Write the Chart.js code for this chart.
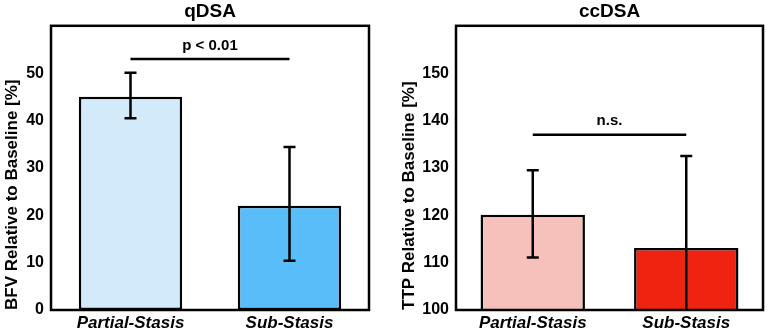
<!DOCTYPE html>
<html>
<head>
<meta charset="utf-8">
<script src="https://cdn.jsdelivr.net/npm/chart.js@4.4.1/dist/chart.umd.min.js"></script>
<style>
  html, body { margin: 0; padding: 0; background: #fff; }
  .panel { position: absolute; top: 0; height: 330px; }
</style>
</head>
<body>
<div class="panel" style="left:0;width:385px"><canvas id="qdsa"></canvas></div>
<div class="panel" style="left:385px;width:390px"><canvas id="ccdsa"></canvas></div>
<script>
// ---------- DATA ----------
const categories = ["Partial-Stasis", "Sub-Stasis"];

const bfvMeans = [45, 22];
const bfvUpper = [50.1, 34.4];
const bfvLower = [40.5, 10.4];
const bfvTicks = [0, 10, 20, 30, 40, 50];
const bfvBracket = 53;
const bfvSig = "p < 0.01";

const ttpMeans = [120.1, 113.1];
const ttpUpper = [129.5, 132.5];
const ttpLower = [111.1, 93.7];
const ttpTicks = [100, 110, 120, 130, 140, 150];
const ttpBracket = 137;
const ttpSig = "n.s.";

const FONT = "'Liberation Sans', Arial, Helvetica, sans-serif";

// ---------- PLUGIN: error bars, bracket, frame ----------
const extras = {
  id: "extras",
  afterDatasetsDraw(chart, args, opts) {
    const ctx = chart.ctx;
    const area = chart.chartArea;
    const y = chart.scales.y;
    const bars = chart.getDatasetMeta(0).data;

    ctx.save();
    ctx.beginPath();
    ctx.rect(area.left, area.top, area.right - area.left, area.bottom - area.top);
    ctx.clip();
    ctx.strokeStyle = "#000";
    ctx.lineWidth = 2.5;
    bars.forEach((bar, i) => {
      const yt = y.getPixelForValue(opts.upper[i]);
      const yb = y.getPixelForValue(opts.lower[i]);
      ctx.beginPath();
      ctx.moveTo(bar.x, yt); ctx.lineTo(bar.x, yb);
      ctx.moveTo(bar.x - 6, yt); ctx.lineTo(bar.x + 6, yt);
      ctx.moveTo(bar.x - 6, yb); ctx.lineTo(bar.x + 6, yb);
      ctx.stroke();
    });
    ctx.restore();

    // significance bracket
    const by = y.getPixelForValue(opts.bracket);
    ctx.save();
    ctx.strokeStyle = "#000";
    ctx.lineWidth = 2.5;
    ctx.beginPath();
    ctx.moveTo(bars[0].x, by);
    ctx.lineTo(bars[1].x, by);
    ctx.stroke();
    ctx.fillStyle = "#000";
    ctx.font = "bold 15px " + FONT;
    ctx.textAlign = "center";
    ctx.textBaseline = "bottom";
    ctx.fillText(opts.label, (bars[0].x + bars[1].x) / 2, by - 6);

    // frame
    ctx.lineWidth = 2.5;
    ctx.strokeRect(area.left, area.top, area.right - area.left, area.bottom - area.top);
    ctx.restore();
  }
};

function makeChart(id, title, yTitle, means, upper, lower, ticks, max, colors,
                   bracket, label, axisWidth, titlePad, barPct, padRight) {
  return new Chart(document.getElementById(id), {
    type: "bar",
    data: {
      labels: categories,
      datasets: [{
        data: means,
        backgroundColor: colors,
        borderColor: "#000",
        borderWidth: 2.5,
        borderSkipped: false,
        barPercentage: barPct,
        categoryPercentage: 1
      }]
    },
    options: {
      responsive: true,
      maintainAspectRatio: false,
      animation: false,
      layout: { padding: { left: 0, right: padRight, top: 0, bottom: 0 } },
      plugins: {
        legend: { display: false },
        tooltip: { enabled: false },
        title: {
          display: true,
          text: title,
          fullSize: false,
          color: "#000",
          font: { family: FONT, size: 19, weight: "bold" },
          padding: { top: 0, bottom: 3 }
        },
        extras: { upper: upper, lower: lower, bracket: bracket, label: label }
      },
      scales: {
        x: {
          grid: { display: false, drawTicks: false },
          border: { display: false },
          ticks: {
            color: "#000",
            padding: 3,
            font: { family: FONT, size: 17, weight: "bold", style: "italic" }
          },
          afterFit: s => { s.height = 20; }
        },
        y: {
          min: ticks[0],
          max: max,
          afterBuildTicks: s => { s.ticks = ticks.map(v => ({ value: v })); },
          grid: { display: false, drawTicks: false },
          border: { display: false },
          ticks: {
            color: "#000",
            padding: 7,
            font: { family: FONT, size: 16, weight: "bold" }
          },
          title: {
            display: true,
            text: yTitle,
            align: "start",
            color: "#000",
            font: { family: FONT, size: 17, weight: "bold" },
            padding: { top: titlePad, bottom: 0 }
          },
          afterFit: s => { s.width = axisWidth; }
        }
      }
    },
    plugins: [extras]
  });
}

makeChart("qdsa", "qDSA", "BFV Relative to Baseline [%]",
  bfvMeans, bfvUpper, bfvLower, bfvTicks, 60,
  ["#d3eafb", "#58bdf8"], bfvBracket, bfvSig, 51, 2, 0.65, 16);

makeChart("ccdsa", "ccDSA", "TTP Relative to Baseline [%]",
  ttpMeans, ttpUpper, ttpLower, ttpTicks, 160,
  ["#f6c0bb", "#ee2411"], ttpBracket, ttpSig, 71, 14, 0.68, 12);
</script>
</body>
</html>
